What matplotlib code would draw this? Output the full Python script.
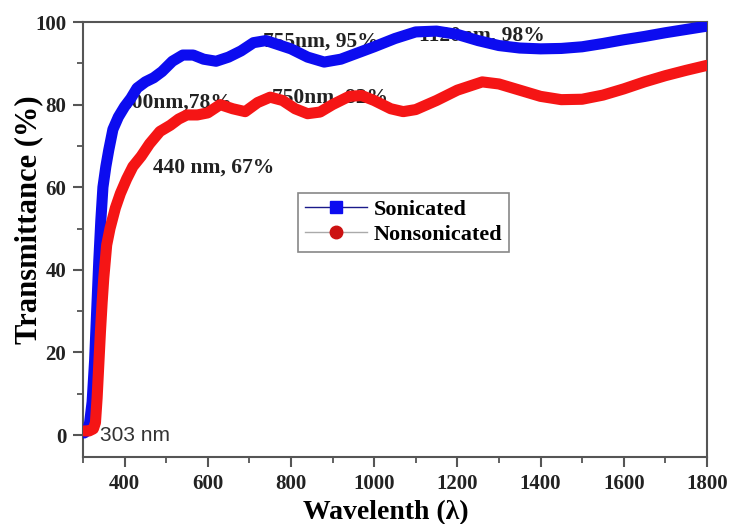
import matplotlib
matplotlib.use('Agg')
import matplotlib.pyplot as plt
from matplotlib.lines import Line2D
from matplotlib.ticker import MultipleLocator

# Sonicated film (blue)
wl_son = [303, 310, 316, 322, 328, 333, 338, 343, 348, 355, 362, 372, 385, 400, 415, 430, 450, 470, 490,
          515, 540, 565, 590, 620, 650, 680, 710, 740, 770, 800, 840, 880, 920, 960, 1000, 1050, 1100,
          1150, 1200, 1250, 1300, 1350, 1400, 1450, 1500, 1550, 1600, 1650, 1700, 1750, 1800]
tr_son = [0.5, 1, 3, 8, 18, 30, 42, 52, 60, 65, 69, 74, 77, 79.5, 81.5, 84, 85.5, 86.5, 88,
          90.5, 92, 92, 91, 90.5, 91.5, 93, 95, 95.5, 94.5, 93.5, 91.5, 90.3, 91, 92.5, 94, 96, 97.6,
          97.8, 97, 95.5, 94.3, 93.7, 93.5, 93.6, 94, 94.8, 95.7, 96.5, 97.4, 98.2, 99]

# Nonsonicated film (red)
wl_non = [303, 315, 325, 330, 334, 338, 342, 346, 350, 357, 365, 378, 390, 405, 420, 440, 460, 485, 510,
          530, 550, 575, 600, 630, 660, 690, 720, 750, 780, 810, 840, 870, 900, 940, 970, 1000, 1040,
          1070, 1100, 1150, 1200, 1260, 1300, 1350, 1400, 1450, 1500, 1550, 1600, 1650, 1700, 1750, 1800]
tr_non = [1, 1, 1.5, 3, 9, 17, 25, 32, 38, 46, 50, 55, 58.5, 62, 65, 67.5, 70.5, 73.5, 75,
          76.5, 77.5, 77.5, 78, 80, 79, 78.3, 80.5, 81.8, 81, 79, 77.8, 78.2, 80, 82, 82.2, 81, 79,
          78.3, 78.8, 81, 83.5, 85.5, 85, 83.5, 82, 81.2, 81.3, 82.3, 83.8, 85.5, 87, 88.3, 89.5]

# annotations: text, x, y
notes = [('440 nm, 67%', 468, 64.8),
         ('400nm,78%', 393, 80.6),
         ('755nm, 95%', 733, 95.2),
         ('750nm, 82%', 755, 81.8),
         ('1120nm, 98%', 1108, 96.7)]

serif = 'Liberation Serif'
blue = '#0c0cf0'
red = '#f51515'

fig = plt.figure(figsize=(7.31, 5.24), dpi=100)
ax = fig.add_axes([0.1135, 0.128, 0.8535, 0.83])

ax.plot(wl_son, tr_son, color=blue, lw=8, solid_capstyle='round', solid_joinstyle='round', zorder=3)
ax.plot(wl_non, tr_non, color=red, lw=8, solid_capstyle='round', solid_joinstyle='round', zorder=3)

for txt, x, y in notes:
    ax.text(x, y, txt, fontfamily=serif, fontweight='bold', fontsize=15.5, color='#222222',
            va='center', ha='left', zorder=1)
ax.text(342, 0, '303 nm', fontfamily='Liberation Sans', fontsize=15, color='#333333',
        va='center', ha='left', zorder=4)

ax.set_xlim(300, 1800)
ax.set_ylim(-5.3, 100)
ax.set_xticks(range(400, 1801, 200))
ax.xaxis.set_minor_locator(MultipleLocator(100))
ax.yaxis.set_major_locator(MultipleLocator(20))
ax.yaxis.set_minor_locator(MultipleLocator(10))

for s in ax.spines.values():
    s.set_color('#555555')
    s.set_linewidth(1.5)
ax.tick_params(which='major', direction='out', length=7, width=1.5, color='#555555', pad=5)
ax.tick_params(which='minor', direction='out', length=4, width=1.3, color='#555555')
for lab in ax.get_xticklabels() + ax.get_yticklabels():
    lab.set_fontfamily(serif)
    lab.set_fontweight('bold')
    lab.set_fontsize(15)
    lab.set_color('#222222')

ax.set_xlabel('Wavelenth (λ)', fontfamily=serif, fontweight='bold', fontsize=20)
ax.set_ylabel('Transmittance (%)', fontfamily=serif, fontweight='bold', fontsize=22)
ax.xaxis.set_label_coords(0.486, -0.1)
ax.yaxis.set_label_coords(-0.063, 0.545)

handles = [Line2D([], [], color='#1a1a8a', lw=1, marker='s', markersize=8, markerfacecolor=blue,
                  markeredgecolor=blue),
           Line2D([], [], color='#aaaaaa', lw=1, marker='o', markersize=9, markerfacecolor='#cc1111',
                  markeredgecolor='#cc1111')]
leg = ax.legend(handles, ['Sonicated', 'Nonsonicated'], loc='upper left', bbox_to_anchor=(0.345, 0.607),
                borderaxespad=0, prop={'family': serif, 'weight': 'bold', 'size': 16}, fancybox=False,
                framealpha=1, edgecolor='#888888', handlelength=2.8, borderpad=0.3, labelspacing=0.2,
                handletextpad=0.3)
leg.get_frame().set_linewidth(1.2)

fig.savefig('out.png', dpi=100)
